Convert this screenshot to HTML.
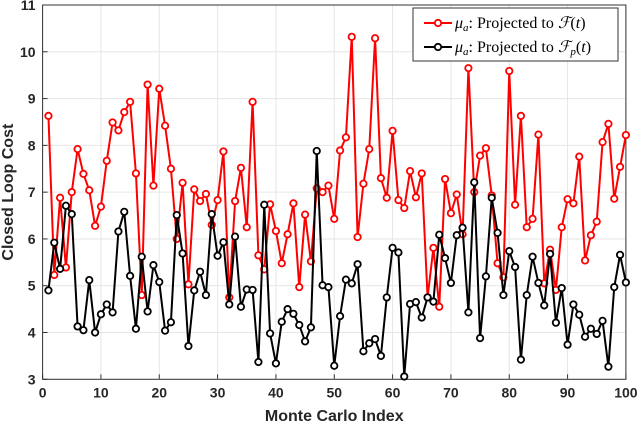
<!DOCTYPE html>
<html><head><meta charset="utf-8"><style>
body{margin:0;background:#fff;width:640px;height:427px;overflow:hidden}
text{font-family:"Liberation Sans",sans-serif}
</style></head><body>
<svg id="chart" width="640" height="427" xmlns="http://www.w3.org/2000/svg"></svg>
<script>
const redValues=[8.63,5.23,6.88,5.39,7.0,7.92,7.39,7.04,6.28,6.69,7.67,8.49,8.32,8.71,8.93,7.40,4.80,9.30,7.14,9.21,8.42,7.50,6.0,7.2,5.03,7.06,6.81,6.96,6.30,6.83,7.87,4.75,6.81,7.52,6.25,8.93,5.65,5.35,6.74,6.17,5.48,6.10,6.76,4.97,6.52,5.52,7.08,7.0,7.14,6.43,7.89,8.17,10.32,6.04,7.18,7.92,10.29,7.30,6.88,8.31,6.83,6.66,7.45,6.89,7.40,4.75,5.81,4.55,7.28,6.55,6.95,6.10,9.65,7.0,7.78,7.94,6.93,5.48,5.18,9.59,6.73,8.63,6.25,6.43,8.23,5.05,5.77,4.91,6.25,6.85,6.76,7.76,5.54,6.08,6.37,8.07,8.46,6.86,7.54,8.22];
const blackValues=[4.90,5.92,5.36,6.71,6.53,4.13,4.05,5.12,4.0,4.39,4.60,4.43,6.16,6.58,5.21,4.08,5.62,4.45,5.44,5.08,4.04,4.22,6.51,5.69,3.71,4.90,5.30,4.80,6.53,5.64,5.93,4.60,6.05,4.55,4.92,4.91,3.37,6.73,3.98,3.34,4.23,4.50,4.40,4.16,3.81,4.11,7.88,5.01,4.97,3.29,4.35,5.13,5.05,5.46,3.60,3.77,3.86,3.50,4.75,5.81,5.71,3.06,4.61,4.65,4.32,4.75,4.66,6.09,5.59,5.06,6.08,6.24,4.43,7.21,3.88,5.20,6.88,6.13,4.80,5.74,5.40,3.42,4.80,5.62,5.06,4.58,5.68,4.21,4.95,3.74,4.60,4.38,3.91,4.08,3.97,4.25,3.27,4.97,5.66,5.07];
const xTicks=[0,10,20,30,40,50,60,70,80,90,100];
const yTicks=[3,4,5,6,7,8,9,10,11];
const L=42.6,R=625.9,T=5,B=379.3;
const xs=v=>L+(v/100)*(R-L);
const ys=v=>B-(v-3)/8*(B-T);
const svg=document.getElementById('chart');
const NS='http://www.w3.org/2000/svg';
function mk(tag,attrs,parent){const e=document.createElementNS(NS,tag);for(const k in attrs)e.setAttribute(k,attrs[k]);(parent||svg).appendChild(e);return e;}
const bg=mk('rect',{x:L,y:T,width:R-L,height:B-T,fill:'#fff'});


xTicks.forEach(t=>{
  const g=mk('line',{x1:xs(t),x2:xs(t),y1:T,y2:B,stroke:'#e6e6e6','stroke-width':1});
  
  
  const tk=mk('line',{x1:xs(t),x2:xs(t),y1:B,y2:B-5,stroke:'#333'});
  
  
  const tx=mk('text',{x:xs(t),y:B+18,'text-anchor':'middle','font-size':14,'font-weight':'bold',fill:'#262626'});
  tx.textContent=t;
  
  
});
yTicks.forEach(t=>{
  const g=mk('line',{x1:L,x2:R,y1:ys(t),y2:ys(t),stroke:'#e6e6e6','stroke-width':1});
  
  
  const tk=mk('line',{x1:L,x2:L+5,y1:ys(t),y2:ys(t),stroke:'#333'});
  
  
  const tx=mk('text',{x:L-7,y:ys(t)+5,'text-anchor':'end','font-size':14,'font-weight':'bold',fill:'#262626'});
  tx.textContent=t;
  
  
});
const box=mk('rect',{x:L,y:T,width:R-L,height:B-T,fill:'none',stroke:'#333','stroke-width':1});


function series(vals,color,name){
  const pts=vals.map((v,i)=>xs(i+1)+','+ys(v)).join(' ');
  const pl=mk('polyline',{points:pts,fill:'none',stroke:color,'stroke-width':2});
  
  
  vals.forEach((v,i)=>{
    const c=mk('circle',{cx:xs(i+1),cy:ys(v),r:3.2,fill:'#fff',stroke:color,'stroke-width':1.8});
    
    
  });
}
series(redValues,'#ff0000','projected-f-series');
series(blackValues,'#000000','projected-fp-series');
const xl=mk('text',{x:(L+R)/2,y:421,'text-anchor':'middle','font-size':16,'font-weight':'bold',fill:'#262626'});
xl.textContent='Monte Carlo Index';


const yl=mk('text',{x:0,y:0,'text-anchor':'middle','font-size':16,'font-weight':'bold',fill:'#262626',transform:`translate(13,${(T+B)/2}) rotate(-90)`});
yl.textContent='Closed Loop Cost';


const lg=mk('g',{});


mk('rect',{x:413,y:8,width:205,height:53,fill:'#fff',stroke:'#333','stroke-width':1},lg);
[['#ff0000',23],['#000000',47]].forEach((d,i)=>{
  const e=mk('g',{},lg);
  
  
  mk('line',{x1:424,x2:452,y1:d[1],y2:d[1],stroke:d[0],'stroke-width':2},e);
  mk('circle',{cx:438,cy:d[1],r:3.2,fill:'#fff',stroke:d[0],'stroke-width':1.8},e);
  const t=mk('text',{x:455,y:d[1]+5,'font-size':16,fill:'#000'},e);
  t.setAttribute('style','font-family:"Liberation Serif",serif');
  t.innerHTML='<tspan font-style="italic">μ</tspan><tspan font-size="11" font-style="italic" dy="3">a</tspan><tspan dy="-3">:  Projected to </tspan><tspan font-style="italic">ℱ</tspan>'+(i===1?'<tspan font-size="11" font-style="italic" dy="3">p</tspan><tspan dy="-3">(</tspan>':'<tspan>(</tspan>')+'<tspan font-style="italic">t</tspan><tspan>)</tspan>';
});
</script>
</body></html>
